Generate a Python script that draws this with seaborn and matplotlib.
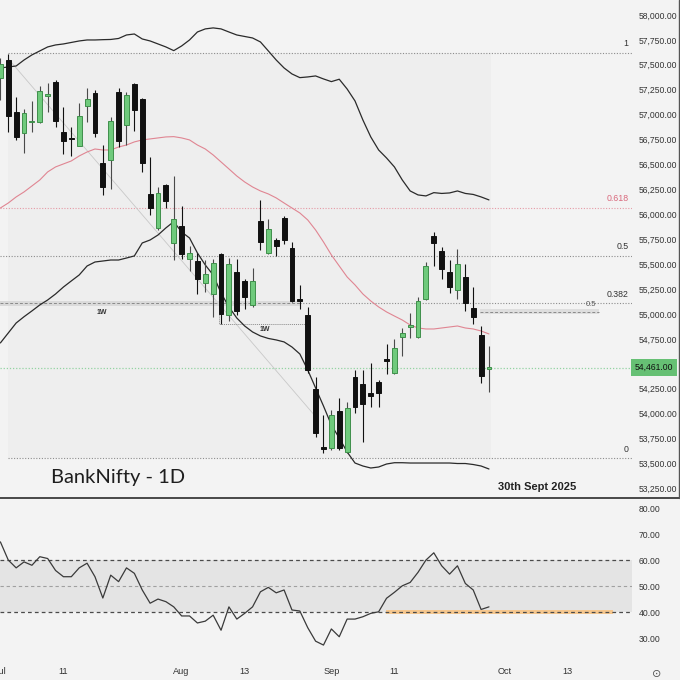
import matplotlib
matplotlib.use('Agg')
import matplotlib.pyplot as plt
import matplotlib.transforms as mtransforms
from matplotlib.lines import Line2D
import numpy as np
import pandas as pd
import seaborn as sns

# ===============================
# 风格
# ===============================
sns.set_theme(style="white")
plt.rcParams['font.family'] = ['Liberation Sans', 'DejaVu Sans']

# ===============================
# 数据 (BankNifty 日线, 2025-07-01 ~ 2025-09-29)
# ===============================
trade_days = pd.bdate_range('2025-07-01', '2025-10-31', freq='C',
                            holidays=['2025-08-15', '2025-08-27'])

open_ = [57370, 57548, 57030, 56813, 56923, 56929, 57190, 57325, 56829, 56769,
         56688, 57090, 57214, 56512, 56545, 57230, 56896, 57305, 57154, 56204,
         55860, 56294, 55709, 55883, 55548, 55531, 55314, 55200, 55599, 54989,
         55424, 55334, 55090, 55933, 55609, 55742, 55960, 55659, 55145, 54989,
         54247, 53660, 53652, 54026, 53618, 54370, 54297, 54204, 54320, 54543,
         54404, 54772, 54874, 54766, 55147, 55785, 55635, 55418, 55240, 55374,
         55057, 54789, 54455]
high = [57570, 57609, 57180, 57054, 57137, 57288, 57315, 57348, 57080, 56879,
        57120, 57264, 57247, 56695, 56979, 57264, 57230, 57318, 57167, 56572,
        56277, 56304, 56387, 56083, 55685, 55609, 55541, 55551, 55615, 55558,
        55551, 55351, 55458, 56144, 55950, 55762, 55983, 55725, 55291, 55067,
        54370, 53986, 54036, 54154, 54113, 54438, 54438, 54511, 54337, 54695,
        54746, 54856, 55007, 55173, 55518, 55819, 55675, 55541, 55649, 55498,
        55267, 54882, 54678]
low = [57150, 56826, 56746, 56612, 56829, 56913, 57030, 56879, 56602, 56585,
       56680, 56929, 56773, 56194, 56251, 56678, 56695, 56839, 56428, 55993,
       55842, 56060, 55541, 55551, 55434, 55200, 55217, 54966, 54896, 54932,
       54989, 55047, 55073, 55642, 55600, 55582, 55699, 55120, 55047, 54410,
       53768, 53602, 53635, 53635, 53602, 54003, 53718, 54069, 54069, 54397,
       54397, 54578, 54756, 54760, 55140, 55484, 55348, 55213, 55150, 55033,
       54899, 54304, 54220]
close = [57510, 56986, 56773, 57020, 56939, 57240, 57207, 56939, 56739, 56753,
         56989, 57154, 56819, 56271, 56936, 56739, 57197, 57047, 56518, 56066,
         56211, 56137, 55950, 55602, 55609, 55351, 55398, 55514, 54997, 55498,
         55033, 55167, 55334, 55719, 55853, 55685, 55742, 55133, 55135, 54438,
         53808, 53650, 53986, 53652, 54059, 54069, 54096, 54180, 54204, 54533,
         54661, 54806, 54884, 55133, 55484, 55709, 55448, 55274, 55498, 55107,
         54966, 54381, 54461]

# 布林带 (20, 2)
bb_upper = [57468, 57478, 57488, 57548, 57599, 57639, 57679, 57699, 57709, 57724,
            57739, 57749, 57749, 57752, 57754, 57764, 57799, 57809, 57759, 57739,
            57709, 57679, 57642, 57689, 57749, 57829, 57860, 57870, 57860, 57829,
            57799, 57784, 57769, 57729, 57639, 57548, 57468, 57408, 57371, 57378,
            57388, 57358, 57331, 57355, 57257, 57137, 56946, 56776, 56645, 56565,
            56475, 56344, 56234, 56194, 56184, 56217, 56209, 56214, 56234, 56209,
            56199, 56174, 56144]
bb_mid = [56063, 56113, 56174, 56224, 56284, 56344, 56425, 56475, 56505, 56535,
          56585, 56625, 56655, 56645, 56645, 56675, 56695, 56726, 56746, 56756,
          56766, 56776, 56779, 56766, 56746, 56695, 56655, 56595, 56525, 56455,
          56384, 56324, 56274, 56234, 56204, 56164, 56113, 56063, 56013, 55943,
          55842, 55722, 55592, 55481, 55371, 55291, 55200, 55130, 55070, 55020,
          54979, 54939, 54889, 54859, 54849, 54849, 54859, 54869, 54879, 54859,
          54849, 54829, 54799]
bb_lower = [54709, 54809, 54909, 54972, 55030, 55090, 55140, 55200, 55270, 55331,
            55391, 55481, 55521, 55531, 55541, 55541, 55561, 55582, 55712, 55742,
            55792, 55863, 55926, 55822, 55762, 55612, 55491, 55391, 55210, 55070,
            54959, 54879, 54819, 54779, 54754, 54739, 54719, 54668, 54598, 54438,
            54257, 54076, 53886, 53755, 53615, 53504, 53474, 53454, 53464, 53494,
            53507, 53507, 53504, 53504, 53504, 53504, 53504, 53504, 53499, 53499,
            53489, 53474, 53444]

# RSI(14)
rsi = [67.0, 60.0, 57.0, 59.3, 58.0, 61.3, 60.6, 56.0, 53.6, 53.6,
       57.0, 58.8, 53.6, 45.4, 54.2, 51.7, 57.0, 54.9, 48.5, 43.4,
       45.0, 44.0, 42.0, 38.5, 38.5, 35.8, 36.5, 38.8, 33.0, 42.0,
       37.3, 39.5, 42.0, 47.8, 49.5, 47.4, 48.5, 40.8, 40.4, 34.0,
       28.8, 27.3, 33.5, 30.5, 37.3, 37.3, 38.2, 39.5, 40.1, 45.3,
       47.6, 50.1, 51.4, 55.3, 60.0, 62.8, 57.8, 54.6, 57.8, 51.0,
       48.5, 41.0, 42.0]

# 斐波那契回撤
fib_high = 57620
fib_low = 53552
fib_levels = [1, 0.618, 0.5, 0.382, 0]
fib_labels = ['1', '0.618', '0.5', '0.382', '0']

last_price = 54461
wk_zone = (55080, 55130)        # 1W 区域
wk_level = 54899                # 1W 线
half_zone = 55023               # 0.5 区域

tick_dates = ['2025-07-01', '2025-07-11', '2025-08-01', '2025-08-13',
              '2025-09-01', '2025-09-11', '2025-10-01', '2025-10-13']
tick_labels = ['Jul', '11', 'Aug', '13', 'Sep', '11', 'Oct', '13']
tick_pos = [trade_days.get_loc(pd.Timestamp(d)) for d in tick_dates]

n = len(close)
idx = np.arange(n)
o = np.array(open_, dtype=float)
c = np.array(close, dtype=float)
h = np.array(high, dtype=float)
l = np.array(low, dtype=float)

# ===============================
# 画布
# ===============================
bg = '#f3f3f3'
fig = plt.figure(figsize=(6.8, 6.8), dpi=100, facecolor=bg)
ax = fig.add_axes([0, 183 / 680, 632 / 680, 497 / 680])
ax_rsi = fig.add_axes([0, 17 / 680, 632 / 680, 164 / 680], sharex=ax)
for a in (ax, ax_rsi):
    a.set_facecolor(bg)
    for s in a.spines.values():
        s.set_visible(False)

x_left, x_right = -0.05, 80.15
ax.set_xlim(x_left, x_right)
ax.set_ylim(53163, 58150)

# 斐波那契背景
ax.fill_between([1, 62.2], fib_low, fib_high, color='#eeeeee', zorder=0, lw=0)
for lvl, lab in zip(fib_levels, fib_labels):
    p = fib_low + lvl * (fib_high - fib_low)
    col = '#e59aa6' if lvl == 0.618 else '#8c8c8c'
    start = 1 if lvl in (0, 1) else x_left
    ax.plot([start, x_right], [p, p], color=col, ls=(0, (1, 1.5)), lw=0.8, zorder=1)
    ax.text(79.7, p + 45, lab, ha='right', va='bottom', fontsize=6.3,
            color='#d9687c' if lvl == 0.618 else '#333333', zorder=6)

# 趋势线
ax.plot([1, 40], [57560, 53970], color='#c8c8c8', lw=0.6, zorder=1)

# 1W 区域
ax.fill_between([x_left, 38.1], wk_zone[0], wk_zone[1], color='#dadada', zorder=1, lw=0)
ax.plot([x_left, 38.1], [sum(wk_zone) / 2] * 2, color='#8a8a8a', ls=(0, (3, 2)), lw=0.7, zorder=2)
ax.text(12.9, 55010, '1W', fontsize=5, color='#333', ha='center', va='center', weight='bold')
ax.plot([27.8, 27.8, 38.6], [55010, wk_level, wk_level], color='#8a8a8a',
        ls=(0, (1, 1)), lw=0.7, zorder=2)
ax.text(33.5, 54839, '1W', fontsize=5, color='#333', ha='center', va='center', weight='bold')

# 右侧 0.5 区域
ax.fill_between([60.9, 75.9], half_zone - 25, half_zone + 25, color='#dedede', zorder=1, lw=0)
ax.plot([60.9, 75.9], [half_zone, half_zone], color='#8a8a8a', ls=(0, (3, 2)), lw=0.7, zorder=2)
ax.text(75.6, half_zone + 40, '0.5', fontsize=5.5, color='#555', ha='right', va='bottom')

# 当前价格线
ax.axhline(last_price, color='#93d3a2', ls=(0, (1, 1.5)), lw=0.9, zorder=1)

# 布林带
sns.lineplot(x=idx, y=bb_upper, ax=ax, color='#2a2a2a', lw=0.9, zorder=3)
sns.lineplot(x=idx, y=bb_lower, ax=ax, color='#2a2a2a', lw=0.9, zorder=3)
sns.lineplot(x=idx, y=bb_mid, ax=ax, color='#e08592', lw=0.8, zorder=3)

# K线
up = c >= o
body = np.abs(c - o)
bottom = np.minimum(o, c)
small = body < 14
bottom = np.where(small, (o + c) / 2 - 7, bottom)
body = np.where(small, 14, body)
wick_col = np.where(up, '#4a4a4a', '#111111')
ax.vlines(idx, l, h, colors=wick_col, lw=0.8, zorder=4)
ax.bar(idx, body, bottom=bottom, width=0.62,
       color=np.where(up, '#6fca7c', '#111111'),
       edgecolor=np.where(up, '#3f8f4b', '#111111'), lw=0.7, zorder=5)

# 价格轴
yt = np.arange(53250, 58001, 250)
ax.set_yticks(yt)
ax.set_yticklabels([f"{v:,.2f}" for v in yt])
ax.yaxis.tick_right()
ax.tick_params(axis='y', length=0, labelsize=6.2, pad=5, colors='#333333')
ax.tick_params(axis='x', length=0, labelbottom=False)
trans = mtransforms.blended_transform_factory(ax.transAxes, ax.transData)
ax.text(1.004, last_price, '54,461.00', transform=trans, ha='left', va='center',
        fontsize=6.2, color='#111', clip_on=False, zorder=10,
        bbox=dict(boxstyle='square,pad=0.45', fc='#66c074', ec='none'))
ax.grid(False)

# ===============================
# RSI 面板
# ===============================
ax_rsi.set_ylim(20.4, 83.5)
ax_rsi.axhspan(40, 60, color='#e4e4e4', zorder=0, lw=0)
ax_rsi.fill_between([48.9, 77.8], 39.3, 40.7, color='#f6c78e', zorder=1, lw=0)
ax_rsi.axhline(60, color='#4a4a4a', ls=(0, (3, 2.5)), lw=0.9, zorder=2)
ax_rsi.axhline(50, color='#a0a0a0', ls=(0, (3, 2.5)), lw=0.8, zorder=2)
ax_rsi.axhline(40, color='#4a4a4a', ls=(0, (3, 2.5)), lw=0.9, zorder=2)
sns.lineplot(x=idx, y=rsi, ax=ax_rsi, color='#3a3a3a', lw=0.9, zorder=3)
rt = [30, 40, 50, 60, 70, 80]
ax_rsi.set_yticks(rt)
ax_rsi.set_yticklabels([f"{v:.2f}" for v in rt])
ax_rsi.yaxis.tick_right()
ax_rsi.tick_params(axis='y', length=0, labelsize=6.2, pad=5, colors='#333333')
ax_rsi.set_xticks(tick_pos)
ax_rsi.set_xticklabels(tick_labels)
ax_rsi.tick_params(axis='x', length=0, labelsize=6.6, pad=3, colors='#333333')
ax_rsi.set_xlabel('')
ax_rsi.set_ylabel('')
ax_rsi.grid(False)
ax.set_xlim(x_left, x_right)

# 分隔线 / 边框
fig.add_artist(Line2D([0, 1], [182 / 680, 182 / 680], transform=fig.transFigure,
                      color='#3a3a3a', lw=1.3))
fig.add_artist(Line2D([679.3 / 680, 679.3 / 680], [182 / 680, 1], transform=fig.transFigure,
                      color='#555555', lw=1.0))

# 标题文字
fig.text(51 / 680, (680 - 478) / 680, 'BankNifty - 1D', fontsize=14.5, color='#1e1e1e',
         ha='left', va='center', family=['Lato', 'DejaVu Sans'])
fig.text(498 / 680, (680 - 487) / 680, '30th Sept 2025', fontsize=8, color='#222',
         ha='left', va='center', weight='bold')
fig.text(657 / 680, (680 - 674) / 680, '⊙', fontsize=8, color='#555',
         ha='center', va='center', family=['DejaVu Sans'])

fig.savefig('out.png', dpi=100, facecolor=bg)
